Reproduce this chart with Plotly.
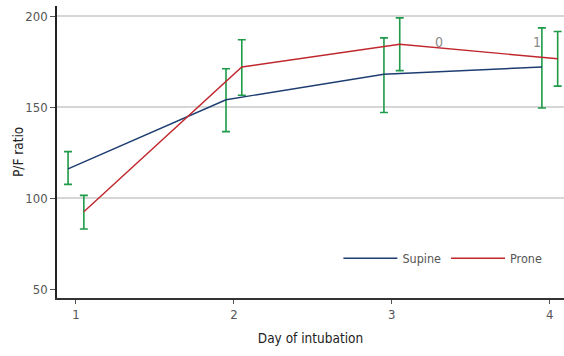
import plotly.graph_objects as go

days = [1, 2, 3, 4]
supine = [116, 154, 168, 172]
supine_hi = [125.5, 171, 188, 193.5]
supine_lo = [107.5, 136.5, 147, 149.5]
prone = [92.5, 172, 184.5, 176.5]
prone_hi = [101.5, 187, 199, 191.5]
prone_lo = [83, 156.5, 170, 161.5]
y_ticks = [50, 100, 150, 200]
grid_vals = [100, 150, 200]
stray_labels = ["0", "1"]
stray_x = [3.30, 3.92]
stray_y = [185.5, 185.5]

FONT = "DejaVu Sans Condensed, Liberation Sans Narrow, sans-serif"
off = 0.05
xs = [d - off for d in days]
xp = [d + off for d in days]

fig = go.Figure()
green = "#1f9a48"
fig.add_trace(go.Scatter(
    x=xs, y=supine, mode="markers", marker=dict(size=0.1, opacity=0), showlegend=False,
    hoverinfo="skip",
    error_y=dict(type="data", symmetric=False,
                 array=[h - v for h, v in zip(supine_hi, supine)],
                 arrayminus=[v - l for l, v in zip(supine_lo, supine)],
                 color=green, thickness=1.6, width=4)))
fig.add_trace(go.Scatter(
    x=xp, y=prone, mode="markers", marker=dict(size=0.1, opacity=0), showlegend=False,
    hoverinfo="skip",
    error_y=dict(type="data", symmetric=False,
                 array=[h - v for h, v in zip(prone_hi, prone)],
                 arrayminus=[v - l for l, v in zip(prone_lo, prone)],
                 color=green, thickness=1.6, width=4)))
fig.add_trace(go.Scatter(x=xs, y=supine, mode="lines", name="Supine",
                         line=dict(color="#1d3d70", width=1.4)))
fig.add_trace(go.Scatter(x=xp, y=prone, mode="lines", name="Prone",
                         line=dict(color="#c0272d", width=1.4)))

for g in grid_vals:
    fig.add_shape(type="line", xref="paper", x0=0, x1=1, yref="y", y0=g, y1=g,
                  line=dict(color="#c8c8c8", width=1.5), layer="below")

for t, x, y in zip(stray_labels, stray_x, stray_y):
    fig.add_annotation(x=x, y=y, text=t, showarrow=False,
                       font=dict(family=FONT, size=14, color="#8a8a8a"))

# y-axis title placed as a rotated annotation
fig.add_annotation(text="P/F ratio", xref="paper", yref="paper", x=0, y=0.5,
                   xanchor="center", yanchor="middle", xshift=-39, textangle=-90,
                   showarrow=False, font=dict(family=FONT, size=13.5, color="#222222"))

fig.update_layout(
    width=564, height=356,
    margin=dict(l=57, r=0, t=6, b=58),
    paper_bgcolor="white", plot_bgcolor="white",
    font=dict(family=FONT, size=13, color="#555555"),
    showlegend=True,
    legend=dict(orientation="h", x=0.555, y=0.135, xanchor="left", yanchor="middle",
                bgcolor="rgba(0,0,0,0)", itemwidth=54, tracegroupgap=0,
                font=dict(family=FONT, size=12.5, color="#555555")),
    xaxis=dict(range=[0.88, 4.09], tickvals=days, ticktext=[str(d) for d in days],
               automargin=False,
               showgrid=False, zeroline=False, showline=True, linecolor="#333333", linewidth=1.5,
               ticks="outside", ticklen=4, tickcolor="#555555",
               tickfont=dict(family=FONT, size=13, color="#555555"),
               title=dict(text="Day of intubation", standoff=12,
                          font=dict(family=FONT, size=13.5, color="#222222"))),
    yaxis=dict(range=[45.1, 205.5], tickvals=y_ticks, automargin=False,
               showgrid=False, zeroline=False, showline=True, linecolor="#222222", linewidth=1.5,
               ticks="outside", ticklen=5, tickcolor="#555555",
               tickfont=dict(family=FONT, size=13, color="#555555")),
)

fig.write_html("out.html", config={"displayModeBar": False},
               post_script="document.body.style.margin='0';document.body.style.overflow='hidden';")
